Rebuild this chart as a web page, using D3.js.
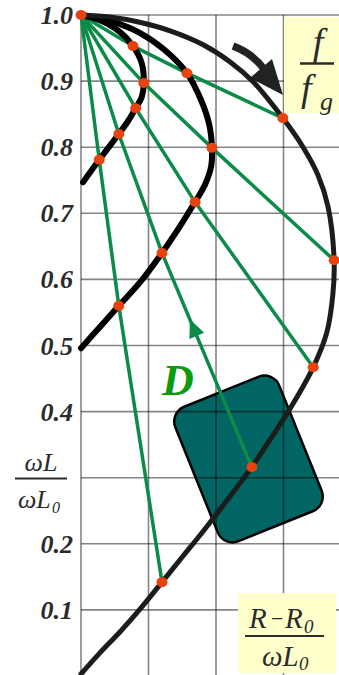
<!DOCTYPE html>
<html>
<head>
<meta charset="utf-8">
<script src="https://cdn.jsdelivr.net/npm/d3@7/dist/d3.min.js"></script>
<style>
  html, body { margin: 0; padding: 0; background: #fff; }
  svg { display: block; }
  text { font-family: "Liberation Serif", "DejaVu Serif", serif; }
</style>
</head>
<body>
<svg id="chart" width="339" height="675"></svg>
<script>
// ---- data (R-R0)/ωL0 on x, ωL/ωL0 on y ----
const yTickValues = [0.1, 0.2, 0.4, 0.5, 0.6, 0.7, 0.8, 0.9, 1.0];
const yTickLabels = ["0.1", "0.2", "0.4", "0.5", "0.6", "0.7", "0.8", "0.9", "1.0"];
const yGridValues = [0.1, 0.2, 0.3, 0.4, 0.5, 0.6, 0.7, 0.8, 0.9, 1.0];
const xGridValues = [0.1, 0.2, 0.3];

const origin = [0, 1.0];

const innerCurve = [[0, 1], [0.028, 0.992], [0.058, 0.974], [0.077, 0.953], [0.090, 0.927],
  [0.093, 0.897], [0.090, 0.876], [0.081, 0.859], [0.070, 0.840], [0.056, 0.820],
  [0.027, 0.781], [0.003, 0.747]];

const middleCurve = [[0, 1], [0.043, 0.991], [0.087, 0.973], [0.124, 0.947], [0.157, 0.912],
  [0.178, 0.871], [0.190, 0.834], [0.194, 0.799], [0.193, 0.772], [0.184, 0.744],
  [0.169, 0.717], [0.147, 0.681], [0.120, 0.640], [0.087, 0.595], [0.056, 0.560],
  [0.028, 0.528], [0, 0.496]];

const outerCurve = [[0, 1], [0.043, 0.997], [0.087, 0.989], [0.132, 0.976], [0.181, 0.955],
  [0.221, 0.929], [0.255, 0.899], [0.299, 0.844], [0.329, 0.800], [0.351, 0.758],
  [0.366, 0.710], [0.375, 0.629], [0.373, 0.576], [0.364, 0.519], [0.344, 0.467],
  [0.313, 0.410], [0.283, 0.362], [0.253, 0.316], [0.218, 0.268], [0.181, 0.219],
  [0.150, 0.180], [0.120, 0.142], [0.089, 0.103], [0.058, 0.067], [0.028, 0.035],
  [0, 0.003]];

// points of equal f/fg on each curve (same order on every curve)
const innerDots  = [[0.077, 0.953], [0.093, 0.897], [0.081, 0.859], [0.056, 0.820], [0.027, 0.781]];
const middleDots = [[0.157, 0.912], [0.194, 0.799], [0.169, 0.717], [0.120, 0.640], [0.056, 0.560]];
const outerDots  = [[0.299, 0.844], [0.375, 0.629], [0.344, 0.467], [0.253, 0.316], [0.120, 0.142]];

const arrowRay = 3;      // ray carrying the D arrow
const arrowAt = 0.31;    // fraction along middle -> outer segment

// ---- scales ----
const W = 339, H = 675;
const x = d3.scaleLinear().domain([0, 0.4]).range([81, 351]);
const y = d3.scaleLinear().domain([0, 1]).range([676, 15]);

const svg = d3.select("#chart");

const GREEN = "#0a8c48";
const ORANGE = "#e8430f";
const INK = "#2b2b2b";
const YELLOW = "#ffffcc";

// teal block
const blk = { cx: 248.5, cy: 459, w: 112, h: 145, r: 16, rot: -22 };
svg.append("rect")
  .attr("x", -blk.w / 2).attr("y", -blk.h / 2)
  .attr("width", blk.w).attr("height", blk.h)
  .attr("rx", blk.r).attr("ry", blk.r)
  .attr("transform", `translate(${blk.cx},${blk.cy}) rotate(${blk.rot})`)
  .attr("fill", "#006563")
  .attr("stroke", "#000")
  .attr("stroke-width", 2.5);

// grid
const grid = svg.append("g")
  .attr("stroke", "#000").attr("stroke-opacity", 0.48).attr("stroke-width", 1.6);
grid.selectAll("line.h").data(yGridValues).join("line")
  .attr("class", "h")
  .attr("x1", x(0)).attr("x2", W)
  .attr("y1", d => y(d)).attr("y2", d => y(d));
grid.selectAll("line.v").data([0].concat(xGridValues)).join("line")
  .attr("class", "v")
  .attr("x1", d => x(d)).attr("x2", d => x(d))
  .attr("y1", y(1)).attr("y2", H);

// tick labels
svg.append("g").selectAll("text").data(yTickValues).join("text")
  .attr("x", 73)
  .attr("y", d => y(d) + 9)
  .attr("text-anchor", "end")
  .attr("font-size", 26)
  .attr("font-weight", "bold")
  .attr("font-style", "italic")
  .attr("fill", INK)
  .text((d, i) => yTickLabels[i]);

// y-axis title: ωL / ωL0
const yt = svg.append("g").attr("fill", INK).attr("font-style", "italic");
yt.append("text").attr("x", 41).attr("y", 471).attr("text-anchor", "middle")
  .attr("font-size", 26).text("ωL");
yt.append("line").attr("x1", 15).attr("x2", 67).attr("y1", 478.5).attr("y2", 478.5)
  .attr("stroke", INK).attr("stroke-width", 2);
yt.append("text").attr("x", 18).attr("y", 508).attr("font-size", 26).text("ωL");
yt.append("text").attr("x", 52).attr("y", 513).attr("font-size", 16).text("0");

// x-axis title box: (R − R0) / ωL0
svg.append("rect").attr("x", 238).attr("y", 593).attr("width", 98).attr("height", 80)
  .attr("fill", YELLOW);
const xt = svg.append("g").attr("fill", INK).attr("font-style", "italic");
xt.append("text").attr("x", 249).attr("y", 628).attr("font-size", 29).text("R");
xt.append("text").attr("x", 271).attr("y", 626).attr("font-size", 22).attr("font-style", "normal").text("−");
xt.append("text").attr("x", 285).attr("y", 628).attr("font-size", 29).text("R");
xt.append("text").attr("x", 304).attr("y", 633).attr("font-size", 19).text("0");
xt.append("line").attr("x1", 245).attr("x2", 324).attr("y1", 636).attr("y2", 636)
  .attr("stroke", INK).attr("stroke-width", 2);
xt.append("text").attr("x", 262).attr("y", 666).attr("font-size", 29).text("ωL");
xt.append("text").attr("x", 299).attr("y", 670).attr("font-size", 19).text("0");

// f / fg box
svg.append("rect").attr("x", 284).attr("y", 17).attr("width", 55).attr("height", 96)
  .attr("fill", YELLOW);
const ft = svg.append("g").attr("fill", INK).attr("font-style", "italic");
ft.append("text").attr("x", 318).attr("y", 55).attr("text-anchor", "middle")
  .attr("font-size", 38).text("f");
ft.append("line").attr("x1", 300).attr("x2", 334).attr("y1", 63.5).attr("y2", 63.5)
  .attr("stroke", INK).attr("stroke-width", 2.5);
ft.append("text").attr("x", 301).attr("y", 101).attr("font-size", 38).text("f");
ft.append("text").attr("x", 320).attr("y", 110).attr("font-size", 26).text("g");

// curved arrow showing increasing f/fg
svg.append("path")
  .attr("d", "M233,46 Q252,53 264,69")
  .attr("fill", "none").attr("stroke", "#222").attr("stroke-width", 7.5);
svg.append("path")
  .attr("d", "M283,95 L272,59 L250,78 Z")
  .attr("fill", "#222");

// green rays joining equal-frequency points
const lineGen = d3.line().x(d => x(d[0])).y(d => y(d[1]));
const rays = innerDots.map((p, i) => [origin, p, middleDots[i], outerDots[i]]);
svg.append("g").selectAll("path").data(rays).join("path")
  .attr("d", lineGen)
  .attr("fill", "none")
  .attr("stroke", GREEN)
  .attr("stroke-width", 3.5)
  .attr("stroke-linejoin", "round");

// response curves
const curveGen = d3.line().x(d => x(d[0])).y(d => y(d[1])).curve(d3.curveCatmullRom.alpha(0.5));
svg.append("g").selectAll("path").data([innerCurve, middleCurve, outerCurve]).join("path")
  .attr("d", curveGen)
  .attr("fill", "none")
  .attr("stroke", (d, i) => i === 2 ? "#1c1c1c" : "#000")
  .attr("stroke-width", (d, i) => i === 2 ? 5 : 6)
  .attr("stroke-linecap", "round");

// D arrowhead on the middle -> outer segment
{
  const a = middleDots[arrowRay], b = outerDots[arrowRay];
  const ax = x(a[0]), ay = y(a[1]), bx = x(b[0]), by = y(b[1]);
  const tx = ax + (bx - ax) * arrowAt, ty = ay + (by - ay) * arrowAt;
  const len = Math.hypot(ax - bx, ay - by);
  const ux = (ax - bx) / len, uy = (ay - by) / len;   // points toward middle curve
  const L = 18, hw = 8;
  const baseX = tx - ux * L, baseY = ty - uy * L;
  svg.append("path")
    .attr("d", `M${tx},${ty} L${baseX - uy * hw},${baseY + ux * hw} L${baseX + uy * hw},${baseY - ux * hw} Z`)
    .attr("fill", GREEN);
}

// "D" label
svg.append("text").attr("x", 162).attr("y", 395)
  .attr("font-size", 44).attr("font-weight", "bold").attr("font-style", "italic")
  .attr("fill", "#0b9b0b").text("D");

// equal-frequency markers
const allDots = [origin].concat(innerDots, middleDots, outerDots);
svg.append("g").selectAll("ellipse").data(allDots).join("ellipse")
  .attr("cx", d => x(d[0])).attr("cy", d => y(d[1]))
  .attr("rx", 5.5).attr("ry", 5)
  .attr("fill", ORANGE);
</script>
</body>
</html>
